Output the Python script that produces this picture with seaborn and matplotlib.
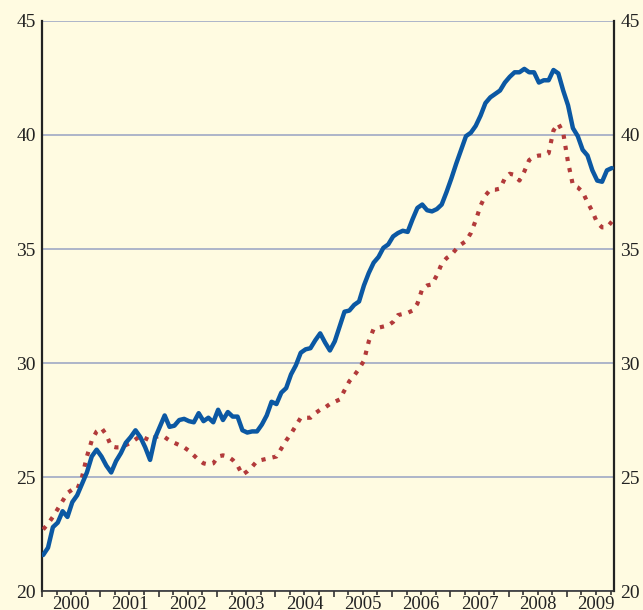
#!/usr/bin/env python3

import numpy as np
import pandas as pd
import matplotlib.pyplot as plt
import matplotlib.ticker as mticker
import seaborn as sns

# monthly series, Jan 2000 .. Oct 2009
START_YEAR = 2000
BLUE_VALUES = [
    21.58, 21.9, 22.8, 23.0, 23.5, 23.25, 23.9, 24.2, 24.7, 25.2, 25.9, 26.2,
    25.9, 25.5, 25.2, 25.7, 26.05, 26.5, 26.75, 27.05, 26.75, 26.3, 25.75, 26.7,
    27.2, 27.7, 27.2, 27.25, 27.5, 27.55, 27.45, 27.4, 27.8, 27.45, 27.6, 27.4,
    27.95, 27.5, 27.85, 27.65, 27.65, 27.05, 26.95, 27.0, 27.0, 27.3, 27.7, 28.3,
    28.2, 28.7, 28.9, 29.5, 29.9, 30.45, 30.6, 30.65, 31.0, 31.3, 30.9, 30.55,
    30.95, 31.6, 32.25, 32.3, 32.55, 32.7, 33.4, 33.95, 34.4, 34.65, 35.05, 35.2,
    35.55, 35.7, 35.8, 35.75, 36.3, 36.8, 36.95, 36.7, 36.65, 36.75, 36.95, 37.5,
    38.1, 38.75, 39.35, 39.95, 40.1, 40.4, 40.85, 41.4, 41.65, 41.8, 41.95, 42.3,
    42.55, 42.75, 42.75, 42.9, 42.75, 42.75, 42.3, 42.4, 42.4, 42.85, 42.7, 41.95,
    41.3, 40.3, 39.95, 39.35, 39.1, 38.45, 38.0, 37.95, 38.45, 38.55,
]
RED_VALUES = [
    22.7, 22.95, 23.25, 23.6, 23.95, 24.3, 24.45, 24.45, 25.0, 25.9, 26.6, 27.0,
    27.15, 26.85, 26.35, 26.3, 26.3, 26.4, 26.5, 26.65, 26.8, 26.7, 26.6, 26.75,
    26.8, 26.75, 26.6, 26.5, 26.4, 26.3, 26.15, 25.95, 25.75, 25.6, 25.55, 25.6,
    25.9, 25.95, 25.9, 25.75, 25.5, 25.1, 25.25, 25.45, 25.7, 25.75, 25.8, 25.85,
    25.9, 26.25, 26.6, 26.9, 27.25, 27.6, 27.6, 27.6, 27.8, 27.95, 28.05, 28.2,
    28.3, 28.4, 28.8, 29.2, 29.45, 29.75, 30.1, 30.95, 31.5, 31.55, 31.6, 31.65,
    31.8, 32.1, 32.15, 32.2, 32.3, 32.6, 33.25, 33.4, 33.45, 33.85, 34.35, 34.6,
    34.75, 35.0, 35.2, 35.35, 35.7, 36.25, 36.9, 37.35, 37.6, 37.6, 37.65, 38.1,
    38.3, 38.25, 38.0, 38.4, 38.9, 39.05, 39.1, 39.1, 39.2, 40.2, 40.5, 40.1,
    38.8, 37.8, 37.7, 37.5, 37.05, 36.65, 36.15, 35.95, 35.95, 36.2,
]
Y_TICKS = [20, 25, 30, 35, 40, 45]

BG = "#fffbe1"
BLUE = "#0b58a3"
RED = "#b23a3a"
GRID = "#adb5c9"

sns.set_theme(style="white", rc={
    "figure.facecolor": BG,
    "axes.facecolor": BG,
})
plt.rcParams["font.family"] = ["Liberation Serif", "DejaVu Serif"]

months = np.arange(len(BLUE_VALUES))
df = pd.DataFrame({
    "t": START_YEAR + months / 12 + 0.02,
    "blue": BLUE_VALUES,
    "red": RED_VALUES,
})

fig = plt.figure(figsize=(6.43, 6.10), dpi=100)
ax = fig.add_axes([0.0653, 0.0311, 0.8898, 0.9345])

sns.lineplot(data=df, x="t", y="red", ax=ax, color=RED, linewidth=3,
             linestyle=(0, (1, 1.7)), dash_capstyle="butt", zorder=3)
sns.lineplot(data=df, x="t", y="blue", ax=ax, color=BLUE, linewidth=3.2,
             solid_joinstyle="round", zorder=4)

ax.set_xlim(2000.0, 2009.81)
ax.set_ylim(20, 45)
ax.set_xlabel("")
ax.set_ylabel("")

# horizontal grid only
ax.set_yticks(Y_TICKS)
ax.yaxis.grid(True, color=GRID, linewidth=1.4)
ax.set_axisbelow(True)
ax.tick_params(axis="y", which="both", length=0, pad=4.5, labelsize=14,
               labelleft=True, labelright=True, colors="#222222")

# years: long ticks at boundaries, short ticks at quarters, label at mid-year
ax.xaxis.set_major_locator(mticker.MultipleLocator(1))
ax.xaxis.set_major_formatter(mticker.NullFormatter())
ax.xaxis.set_minor_locator(mticker.MultipleLocator(0.25))
ax.xaxis.set_minor_formatter(mticker.FuncFormatter(
    lambda v, p: str(int(v)) if abs(v - int(v) - 0.5) < 0.01 else ""))
ax.tick_params(axis="x", which="major", direction="out", length=4.5, width=1.2,
               color="#333333", bottom=True)
ax.tick_params(axis="x", which="minor", direction="out", length=3, width=1.2,
               color="#333333", bottom=True, pad=0.8, labelsize=13.5,
               labelcolor="#222222")

ax.spines["top"].set_visible(False)
ax.spines["left"].set_color("#222222")
ax.spines["left"].set_linewidth(1.6)
ax.spines["right"].set_color("#222222")
ax.spines["right"].set_linewidth(1.6)
ax.spines["bottom"].set_color("#333333")
ax.spines["bottom"].set_linewidth(1.2)

fig.savefig("out.png", dpi=100, facecolor=BG)
plt.close(fig)
